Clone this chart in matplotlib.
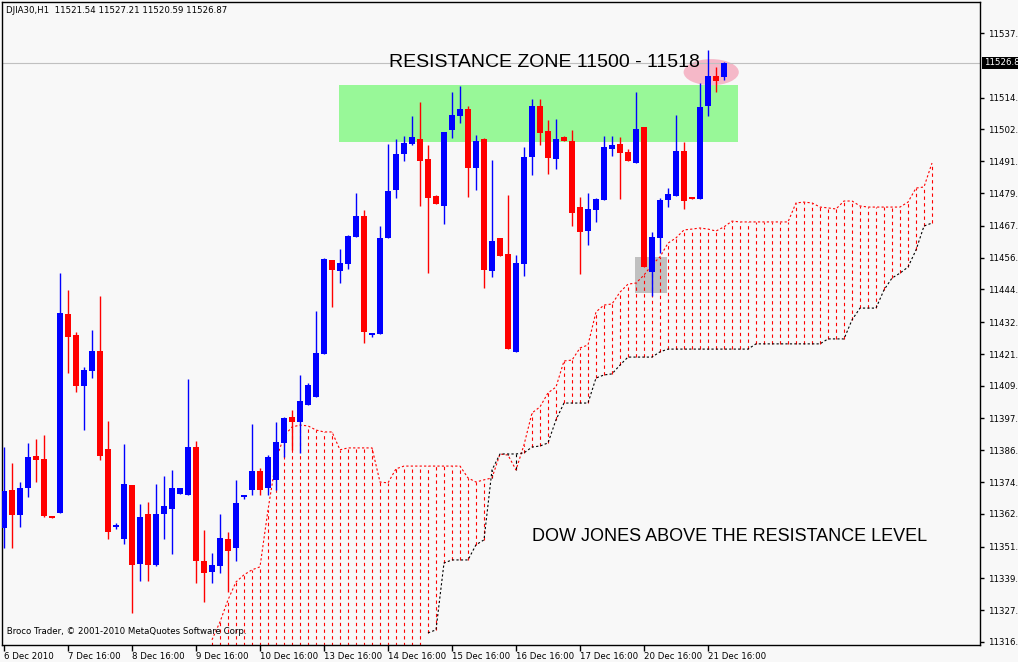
import numpy as np
import matplotlib
matplotlib.use("Agg")
import matplotlib.pyplot as plt
from matplotlib.patches import Rectangle, Ellipse

# OHLC per H1 bar
opens = [11357.8, 11371.6, 11362.6, 11372.4, 11384.0, 11382.9, 11362.2, 11363.3, 11435.6, 11427.9,
         11409.4, 11414.9, 11422.1, 11386.5, 11358.2, 11353.8, 11373.4, 11344.8, 11362.9, 11344.4,
         11362.9, 11364.7, 11370.2, 11369.8, 11387.2, 11345.8, 11341.8, 11344.0, 11353.8, 11350.6,
         11369.1, 11371.6, 11378.5, 11372.4, 11375.3, 11388.7, 11398.1, 11396.3, 11402.5, 11405.4,
         11421.0, 11455.2, 11451.2, 11453.7, 11463.5, 11471.1, 11427.9, 11428.3, 11463.2, 11480.6,
         11493.7, 11497.3, 11499.1, 11491.9, 11478.4, 11474.8, 11502.4, 11507.5, 11510.0, 11488.6,
         11499.1, 11451.2, 11463.2, 11457.3, 11421.8, 11453.7, 11492.6, 11511.1, 11502.0, 11491.9,
         11499.8, 11498.4, 11474.4, 11465.7, 11473.3, 11477.0, 11495.5, 11497.3, 11494.4, 11490.4,
         11503.5, 11450.8, 11463.2, 11477.0, 11478.4, 11494.8, 11478.0, 11477.3, 11511.1, 11522.0,
         11521.5]
highs = [11387.2, 11381.4, 11374.5, 11388.7, 11390.2, 11391.6, 11362.2, 11450.4, 11444.3, 11429.0,
         11416.3, 11429.7, 11442.1, 11396.7, 11359.6, 11388.3, 11373.4, 11366.5, 11367.3, 11373.8,
         11376.7, 11378.9, 11372.4, 11411.9, 11389.4, 11357.1, 11348.8, 11362.9, 11356.4, 11375.3,
         11369.8, 11395.6, 11379.6, 11384.4, 11396.3, 11398.1, 11400.7, 11413.4, 11410.5, 11436.6,
         11455.9, 11455.2, 11459.2, 11464.2, 11479.5, 11473.3, 11428.7, 11467.5, 11497.3, 11499.1,
         11500.2, 11507.5, 11512.6, 11496.9, 11478.8, 11501.7, 11516.2, 11518.4, 11511.1, 11500.6,
         11499.5, 11491.5, 11463.2, 11478.8, 11457.0, 11496.2, 11513.6, 11513.6, 11506.0, 11506.4,
         11500.2, 11502.4, 11478.0, 11479.5, 11477.7, 11500.2, 11500.2, 11499.8, 11495.5, 11516.2,
         11503.5, 11465.3, 11477.7, 11481.3, 11507.8, 11498.0, 11478.0, 11519.5, 11531.4, 11525.3,
         11527.2]
lows = [11350.6, 11350.6, 11358.2, 11369.1, 11374.5, 11361.8, 11361.5, 11363.3, 11414.1, 11407.2,
        11393.4, 11412.3, 11382.5, 11353.8, 11357.5, 11352.0, 11327.0, 11338.6, 11338.6, 11344.0,
        11353.8, 11348.4, 11370.2, 11369.8, 11337.9, 11331.0, 11337.9, 11341.5, 11334.6, 11345.8,
        11368.4, 11369.8, 11369.8, 11369.8, 11371.6, 11383.6, 11386.2, 11385.1, 11402.5, 11405.4,
        11421.0, 11438.1, 11446.8, 11451.9, 11463.5, 11425.0, 11427.2, 11428.3, 11463.2, 11477.7,
        11491.1, 11496.9, 11474.8, 11450.4, 11475.5, 11468.2, 11499.5, 11504.9, 11478.0, 11480.6,
        11445.0, 11449.0, 11456.6, 11422.8, 11421.8, 11449.4, 11486.0, 11496.9, 11486.4, 11488.2,
        11498.4, 11467.5, 11450.1, 11460.6, 11469.0, 11477.0, 11492.9, 11477.3, 11491.1, 11490.4,
        11452.6, 11442.1, 11457.7, 11474.4, 11478.4, 11473.7, 11477.3, 11477.3, 11507.5, 11516.2,
        11520.6]
closes = [11371.3, 11362.6, 11372.4, 11383.6, 11382.5, 11362.2, 11361.5, 11435.9, 11427.2, 11409.4,
          11415.2, 11422.1, 11384.0, 11356.4, 11358.9, 11373.8, 11344.4, 11361.8, 11344.4, 11362.9,
          11365.8, 11372.4, 11372.4, 11387.2, 11345.8, 11341.5, 11344.4, 11354.2, 11349.5, 11366.9,
          11369.8, 11378.5, 11371.6, 11383.6, 11389.1, 11397.8, 11396.3, 11404.0, 11409.8, 11421.4,
          11455.5, 11451.5, 11454.1, 11463.9, 11471.1, 11429.0, 11427.9, 11463.2, 11480.2, 11493.7,
          11497.7, 11499.8, 11491.1, 11477.7, 11475.5, 11501.7, 11507.8, 11510.0, 11488.6, 11498.4,
          11451.5, 11462.1, 11456.6, 11422.8, 11454.1, 11492.6, 11511.1, 11501.3, 11492.2, 11499.1,
          11498.4, 11472.2, 11465.3, 11473.7, 11477.3, 11496.2, 11496.9, 11494.0, 11491.1, 11502.7,
          11452.6, 11463.5, 11477.0, 11479.1, 11494.8, 11476.6, 11477.3, 11510.7, 11522.0, 11520.2,
          11526.9]

# Ichimoku Senkou span A (bars 26..116) and span B (bars 53..116)
span_a_start = 26
span_a = [11317.2, 11323.7, 11331.7, 11338.2, 11340.8, 11342.6, 11343.7, 11364.4, 11382.5, 11391.2,
          11394.5, 11395.2, 11394.9, 11393.4, 11392.7, 11392.7, 11386.2, 11386.9, 11386.9, 11386.9,
          11386.9, 11374.5, 11374.2, 11379.3, 11380.3, 11380.3, 11380.3, 11380.3, 11380.3, 11380.3,
          11380.3, 11380.3, 11376.0, 11374.5, 11375.3, 11376.0, 11384.7, 11384.3, 11378.9, 11388.0,
          11399.6, 11401.8, 11406.9, 11409.0, 11418.5, 11418.8, 11423.2, 11424.3, 11436.3, 11438.8,
          11439.2, 11443.5, 11446.4, 11446.8, 11449.7, 11453.4, 11456.3, 11461.3, 11463.2, 11466.1,
          11466.4, 11466.8, 11466.4, 11465.7, 11467.2, 11469.3, 11469.0, 11469.0, 11469.0, 11469.0,
          11469.0, 11469.0, 11469.0, 11475.9, 11476.2, 11475.9, 11474.4, 11474.1, 11473.7, 11476.6,
          11476.6, 11474.8, 11474.4, 11474.4, 11474.4, 11474.4, 11474.4, 11476.2, 11481.3, 11481.7,
          11490.4]
span_b_start = 53
span_b = [11319.7, 11320.8, 11345.1, 11346.2, 11346.2, 11346.2, 11351.7, 11353.5, 11378.9, 11384.7,
          11384.7, 11384.7, 11385.1, 11387.2, 11387.6, 11388.7, 11397.1, 11403.2, 11403.2, 11403.2,
          11403.2, 11412.3, 11413.4, 11413.8, 11417.0, 11419.9, 11419.9, 11419.9, 11419.9, 11421.8,
          11422.8, 11422.8, 11422.8, 11422.8, 11422.8, 11422.8, 11422.8, 11422.8, 11422.8, 11422.8,
          11422.8, 11424.7, 11424.7, 11424.7, 11424.7, 11424.7, 11424.7, 11424.7, 11424.7, 11424.7,
          11426.5, 11426.5, 11426.5, 11433.4, 11437.7, 11437.7, 11437.7, 11444.3, 11448.6, 11450.4,
          11452.6, 11458.8, 11467.5, 11468.6]

x_labels = ["6 Dec 2010", "7 Dec 16:00", "8 Dec 16:00", "9 Dec 16:00", "10 Dec 16:00",
            "13 Dec 16:00", "14 Dec 16:00", "15 Dec 16:00", "16 Dec 16:00", "17 Dec 16:00",
            "20 Dec 16:00", "21 Dec 16:00"]
y_ticks = [11537.6, 11514.1, 11502.6, 11491.0, 11479.5, 11467.6, 11456.0, 11444.6, 11432.6,
           11421.0, 11409.5, 11397.6, 11386.0, 11374.5, 11362.9, 11351.0, 11339.5, 11327.9, 11316.4]
last_price = 11526.87

BG = "#f8f8f8"
UP, DOWN = "#0000ff", "#ff0000"
YMIN, YMAX = 11315.3, 11548.9
SMALL = 6.2

fig = plt.figure(figsize=(10.18, 6.62), dpi=100, facecolor=BG)
ax = fig.add_axes([2 / 1018, 17 / 662, 978 / 1018, 643 / 662])
ax.set_facecolor(BG)
ax.set_xlim(-0.25, 122)
ax.set_ylim(YMIN, YMAX)

# resistance zone and highlight boxes (behind the candles)
ax.add_patch(Rectangle((41.9, 11497.9), 49.85, 20.8, color="#98f898", zorder=1, lw=0))
ax.add_patch(Rectangle((78.9, 11443.2), 4.0, 13.1, color="#c0c0c0", zorder=1, lw=0))
ax.add_patch(Ellipse((88.4, 11523.4), 6.9, 9.5, color="#f5b8c8", zorder=1, lw=0))
ax.axhline(last_price, color="#c0c0c0", lw=0.8, zorder=1.5)

# cloud
xa = np.arange(span_a_start, span_a_start + len(span_a))
xb = np.arange(span_b_start, span_b_start + len(span_b))
b_full = np.full(len(span_a), YMIN - 5.0)
b_full[span_b_start - span_a_start:] = span_b
for xi, a, b in zip(xa, span_a, b_full):
    col = DOWN if a >= b else "black"
    ax.vlines(xi, min(a, b), max(a, b), color=col, lw=0.8, linestyles=(0, (3, 3)), zorder=2)
ax.plot(xa, span_a, color=DOWN, lw=0.8, ls=(0, (2, 2)), zorder=2)
ax.plot(xb, span_b, color="black", lw=0.8, ls=(0, (2, 2)), zorder=2)

# candles
for i, (o, h, l, c) in enumerate(zip(opens, highs, lows, closes)):
    col = UP if c >= o else DOWN
    ax.vlines(i, l, h, color=col, lw=1.0, zorder=3)
    ax.bar(i, max(abs(c - o), 0.6), bottom=min(o, c), width=0.65, color=col, lw=0, zorder=3)

# axes styling
for s in ax.spines.values():
    s.set_linewidth(1)
ax.yaxis.tick_right()
ax.set_yticks(y_ticks)
ax.set_yticklabels([f"{v:.1f}" for v in y_ticks])
ax.tick_params(axis="y", length=3, width=1, pad=3, labelsize=SMALL)
ax.set_xticks(np.arange(0, 8 * len(x_labels), 8))
ax.set_xticklabels(x_labels, ha="left")
ax.tick_params(axis="x", length=4, width=1, pad=1, labelsize=SMALL)
ax.text(1.004, last_price, "11526.8", transform=ax.get_yaxis_transform(), va="center", ha="left",
        color="white", fontsize=SMALL, bbox=dict(facecolor="black", edgecolor="none", pad=1.2))

ax.text(0.3, 11545.8, "DJIA30,H1  11521.54 11527.21 11520.59 11526.87", fontsize=SMALL, va="center")
ax.text(0.0, 11320.3, " Broco Trader, \u00a9 2001-2010 MetaQuotes Software Corp.", fontsize=SMALL,
        va="center", zorder=4)
ax.text(67.6, 11526.8, "RESISTANCE ZONE 11500 - 11518", family="Liberation Sans", fontsize=14,
        ha="center", va="center", zorder=4)
ax.text(90.7, 11354.6, "DOW JONES ABOVE THE RESISTANCE LEVEL", family="Liberation Sans",
        fontsize=13, ha="center", va="center", zorder=4)

fig.savefig("out.png", dpi=100, facecolor=BG)
